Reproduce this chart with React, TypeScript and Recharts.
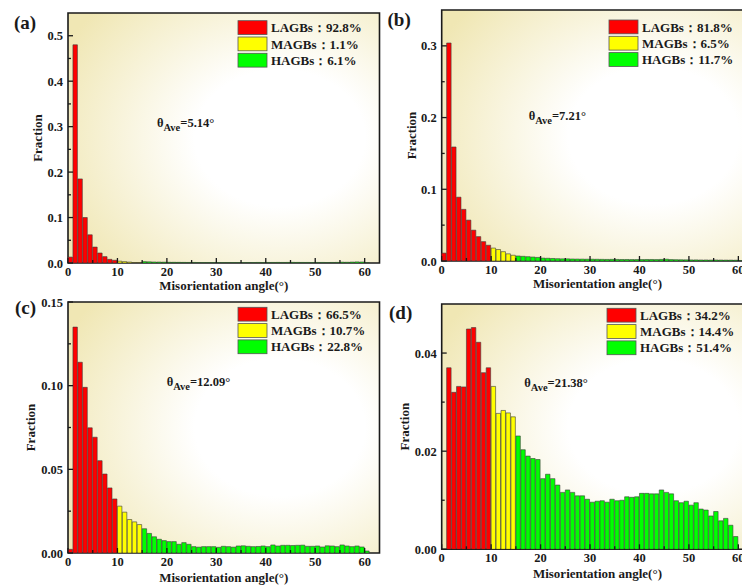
import React from "react";
import { BarChart, Bar, XAxis, YAxis, Cell, CartesianGrid, ReferenceArea, Label } from "recharts";

// misorientation histograms, 1 degree bins starting at 0
const fractionA = [
  0.013, 0.48, 0.185, 0.1, 0.062, 0.035, 0.022, 0.014, 0.008, 0.006,
  0.004, 0.003, 0.002, 0.001, 0.001,
  0.003, 0.0026, 0.0022, 0.002, 0.0018, 0.0016, 0.0015, 0.0014, 0.0013, 0.0012,
  0.0012, 0.0011, 0.0011, 0.001, 0.001, 0.0011, 0.001, 0.001, 0.0011, 0.001,
  0.0011, 0.001, 0.0011, 0.0012, 0.0011, 0.0012, 0.0012, 0.0013, 0.0012, 0.0013,
  0.0014, 0.0013, 0.0012, 0.0012, 0.0011, 0.0012, 0.0012, 0.0011, 0.0012, 0.0013,
  0.0018, 0.0016, 0.002, 0.0024, 0.0022, 0.0008,
];
const fractionB = [
  0.011, 0.304, 0.159, 0.089, 0.072, 0.057, 0.043, 0.034, 0.027, 0.022,
  0.018, 0.016, 0.013, 0.01, 0.008,
  0.007, 0.0065, 0.006, 0.0055, 0.005,
  0.004, 0.0038, 0.0035, 0.0032, 0.003, 0.003, 0.0028, 0.0027, 0.0026, 0.0025,
  0.0025, 0.0024, 0.0023, 0.0022, 0.0023, 0.0022, 0.0021, 0.0021, 0.002, 0.002,
  0.002, 0.0021, 0.0021, 0.002, 0.0022, 0.0025, 0.002, 0.0018, 0.0017, 0.0016,
  0.0015, 0.0015, 0.0014, 0.0014, 0.0013, 0.0014, 0.0013, 0.0012, 0.0012, 0.0011, 0.0005,
];
const fractionC = [
  0.0022, 0.135, 0.114, 0.099, 0.0748, 0.0692, 0.0552, 0.0472, 0.0389, 0.0323,
  0.028, 0.0244, 0.02, 0.0186, 0.017,
  0.0145, 0.0117, 0.0097, 0.0082, 0.0074, 0.0068, 0.0068, 0.0052, 0.0062, 0.0052,
  0.0038, 0.0035, 0.0038, 0.0038, 0.0038, 0.0034, 0.004, 0.0038, 0.0035, 0.0042,
  0.0043, 0.004, 0.0038, 0.0039, 0.0042, 0.0038, 0.0048, 0.0042, 0.0046, 0.0046,
  0.0045, 0.0046, 0.0047, 0.004, 0.004, 0.0042, 0.0036, 0.0043, 0.0042, 0.0038,
  0.0048, 0.0042, 0.0038, 0.0042, 0.0036, 0.0012,
];
const fractionD = [
  0, 0.037, 0.032, 0.0332, 0.0331, 0.0449, 0.0452, 0.0422, 0.036, 0.037,
  0.0332, 0.0277, 0.0283, 0.0278, 0.027,
  0.0231, 0.0203, 0.019, 0.0185, 0.0183, 0.0144, 0.0153, 0.0144, 0.0131, 0.0116,
  0.0121, 0.0116, 0.0109, 0.0109, 0.0102, 0.0096, 0.0098, 0.0099, 0.0096, 0.0102,
  0.0099, 0.01, 0.0107, 0.0106, 0.0107, 0.0114, 0.0114, 0.0113, 0.0113, 0.0121,
  0.0116, 0.0113, 0.0099, 0.0095, 0.0098, 0.009, 0.0095, 0.0082, 0.008, 0.0068,
  0.0077, 0.0058, 0.0063, 0.0049, 0.0026,
];

const xMajor = [0, 10, 20, 30, 40, 50, 60];
const xMinor = [5, 15, 25, 35, 45, 55];

const yMajorA = [0, 0.1, 0.2, 0.3, 0.4, 0.5];
const yMinorA = [0.05, 0.15, 0.25, 0.35, 0.45];
const yMajorB = [0, 0.1, 0.2, 0.3];
const yMinorB = [0.05, 0.15, 0.25];
const yMajorC = [0, 0.05, 0.1, 0.15];
const yMinorC = [0.025, 0.075, 0.125];
const yMajorD = [0, 0.02, 0.04];
const yMinorD = [0.01, 0.03];

const legendA = ["LAGBs：92.8%", "MAGBs：1.1%", "HAGBs：6.1%"];
const legendB = ["LAGBs：81.8%", "MAGBs：6.5%", "HAGBs：11.7%"];
const legendC = ["LAGBs：66.5%", "MAGBs：10.7%", "HAGBs：22.8%"];
const legendD = ["LAGBs：34.2%", "MAGBs：14.4%", "HAGBs：51.4%"];

const FONT = "'Liberation Serif', 'Times New Roman', serif";
const COLORS = ["#ff0000", "#ffff00", "#00ff00"];
const X_MAX = 63;
const PLOT_W = 311.5;
const W = 400;
const H = 300;

const colorFor = (angle: number) => (angle < 10 ? COLORS[0] : angle < 15 ? COLORS[1] : COLORS[2]);

const toRows = (vals: number[]) => vals.map((v, i) => ({ angle: i + 0.5, fraction: v }));

const isIn = (list: number[], v: number) => list.some((t) => Math.abs(t - v) < 1e-9);

type PanelProps = {
  left: number;
  top: number;
  plotLeft: number;
  plotTop: number;
  plotBottom: number;
  values: number[];
  yMax: number;
  yMajor: number[];
  yMinor: number[];
  digits: number;
  letter: string;
  letterPos: [number, number];
  legend: string[];
  legendPos: [number, number];
  avg: string;
  avgPos: [number, number];
  titleY: number;
  fracX: number;
};

function Panel(p: PanelProps) {
  const data = toRows(p.values);
  const XTick = (props: any) => {
    const { x, y, payload } = props;
    const major = isIn(xMajor, payload.value);
    return (
      <g>
        <line x1={x} x2={x} y1={y} y2={y - (major ? 5 : 3)} stroke="#1a1a1a" strokeWidth={1.3} />
        {major && (
          <text x={x} y={y + 12.5} textAnchor="middle" fontFamily={FONT} fontWeight="bold" fontSize={12.5} fill="#1a1a1a">
            {payload.value}
          </text>
        )}
      </g>
    );
  };
  const YTick = (props: any) => {
    const { x, y, payload } = props;
    const major = isIn(p.yMajor, payload.value);
    return (
      <g>
        <line x1={x} x2={x + (major ? 5 : 3)} y1={y} y2={y} stroke="#1a1a1a" strokeWidth={1.3} />
        {major && (
          <text x={x - 5} y={y + 4.5} textAnchor="end" fontFamily={FONT} fontWeight="bold" fontSize={12.5} fill="#1a1a1a">
            {payload.value.toFixed(p.digits)}
          </text>
        )}
      </g>
    );
  };
  const margin = {
    top: p.plotTop,
    left: p.plotLeft - 40,
    right: W - p.plotLeft - PLOT_W,
    bottom: H - p.plotBottom - 30,
  };
  const [lx, ly] = p.legendPos;
  const [ax, ay] = p.avgPos;
  return (
    <div style={{ position: "absolute", left: p.left, top: p.top, width: W, height: H }}>
      <BarChart width={W} height={H} data={data} margin={margin} barCategoryGap={0} barGap={0}>
        <CartesianGrid horizontal={false} vertical={false} fill="url(#plotBg)" />
        <XAxis
          dataKey="angle"
          type="number"
          domain={[0, X_MAX]}
          ticks={[...xMajor, ...xMinor]}
          interval={0}
          tickLine={false}
          axisLine={false}
          tickSize={0}
          tickMargin={0}
          height={30}
          tick={<XTick />}
        >
          <Label
            value="Misorientation angle(°)"
            position="center"
            dy={p.titleY - (p.plotBottom + 15) + 1.5}
            fontFamily={FONT}
            fontWeight="bold"
            fontSize={13}
            fill="#1a1a1a"
          />
        </XAxis>
        <YAxis
          type="number"
          domain={[0, p.yMax]}
          ticks={[...p.yMajor, ...p.yMinor]}
          interval={0}
          tickLine={false}
          axisLine={false}
          tickSize={0}
          tickMargin={0}
          width={40}
          allowDataOverflow
          tick={<YTick />}
        >
          <Label
            value="Fraction"
            position="center"
            angle={-90}
            dx={p.fracX - (p.plotLeft - 20)}
            fontFamily={FONT}
            fontWeight="bold"
            fontSize={13}
            fill="#1a1a1a"
          />
        </YAxis>
        <Bar dataKey="fraction" barSize={PLOT_W / X_MAX} stroke="#3a3a3a" strokeWidth={0.6} isAnimationActive={false}>
          {data.map((d) => (
            <Cell key={d.angle} fill={colorFor(d.angle)} />
          ))}
        </Bar>
        <ReferenceArea x1={0} x2={X_MAX} y1={0} y2={p.yMax} fill="none" stroke="#1a1a1a" strokeWidth={1.6} ifOverflow="visible" />
      </BarChart>
      <svg width={W} height={H} style={{ position: "absolute", left: 0, top: 0, pointerEvents: "none" }}>
        <text x={p.letterPos[0]} y={p.letterPos[1]} fontFamily={FONT} fontWeight="bold" fontSize={19} fill="#1a1a1a">
          {p.letter}
        </text>
        {p.legend.map((t, i) => (
          <g key={t}>
            <rect x={lx} y={ly + i * 16.3} width={29} height={13.8} fill={COLORS[i]} stroke="#555" strokeWidth={0.8} />
            <text x={lx + 33} y={ly + i * 16.3 + 11.5} fontFamily={FONT} fontWeight="bold" fontSize={13} fill="#1a1a1a">
              {t}
            </text>
          </g>
        ))}
        <text x={ax} y={ay} fontFamily={FONT} fontWeight="bold" fontSize={12.5} fill="#1a1a1a">
          <tspan>θ</tspan>
          <tspan fontSize={10.5} dy={4}>Ave</tspan>
          <tspan dy={-4}>={p.avg}</tspan>
        </text>
      </svg>
    </div>
  );
}

export default function App() {
  return (
    <div style={{ position: "absolute", left: 0, top: 0, width: 742, height: 586, overflow: "hidden", background: "#fff" }}>
      <svg width={0} height={0} style={{ position: "absolute" }}>
        <defs>
          <radialGradient id="plotBg" cx="0.68" cy="0.5" r="0.78">
            <stop offset="0" stopColor="#ffffff" />
            <stop offset="0.35" stopColor="#ffffff" />
            <stop offset="1" stopColor="#f0e7b4" />
          </radialGradient>
        </defs>
      </svg>
      <Panel
        left={0} top={0} plotLeft={68} plotTop={13} plotBottom={263}
        values={fractionA} yMax={0.55} yMajor={yMajorA} yMinor={yMinorA} digits={1}
        letter="(a)" letterPos={[14, 29]} legend={legendA} legendPos={[238, 20.7]}
        avg="5.14°" avgPos={[157, 127]} titleY={284} fracX={37.7}
      />
      <Panel
        left={371} top={0} plotLeft={70.7} plotTop={10} plotBottom={261}
        values={fractionB} yMax={0.35} yMajor={yMajorB} yMinor={yMinorB} digits={1}
        letter="(b)" letterPos={[16.5, 26]} legend={legendB} legendPos={[238, 20]}
        avg="7.21°" avgPos={[157.7, 120]} titleY={282} fracX={40}
      />
      <Panel
        left={0} top={290} plotLeft={68} plotTop={12} plotBottom={263}
        values={fractionC} yMax={0.15} yMajor={yMajorC} yMinor={yMinorC} digits={2}
        letter="(c)" letterPos={[15, 24]} legend={legendC} legendPos={[238, 17.3]}
        avg="12.09°" avgPos={[166.7, 96]} titleY={286} fracX={30}
      />
      <Panel
        left={371} top={290} plotLeft={70.7} plotTop={14} plotBottom={259.3}
        values={fractionD} yMax={0.05} yMajor={yMajorD} yMinor={yMinorD} digits={2}
        letter="(d)" letterPos={[18, 29]} legend={legendD} legendPos={[236, 18.3]}
        avg="21.38°" avgPos={[153.3, 96.7]} titleY={281.7} fracX={33.3}
      />
    </div>
  );
}
